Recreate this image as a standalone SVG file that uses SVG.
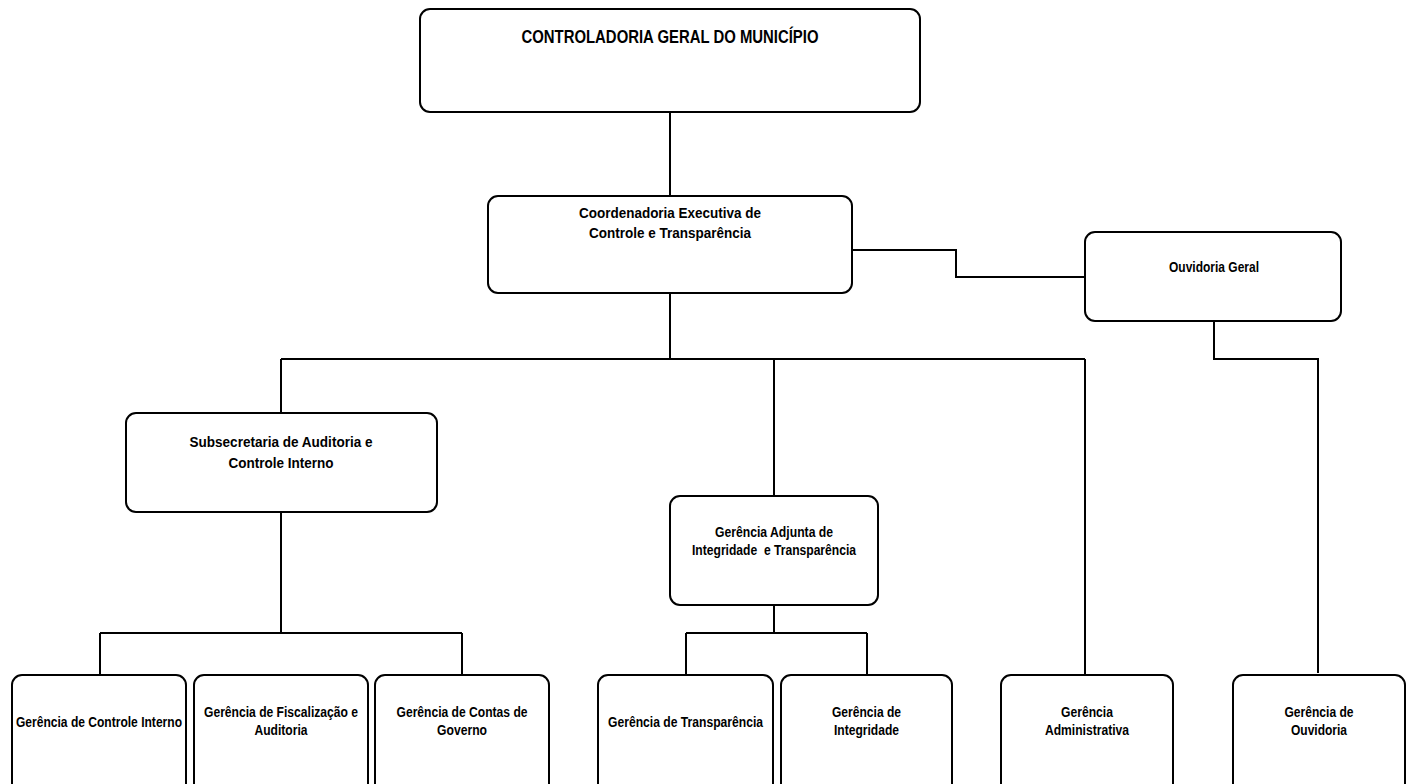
<svg xmlns="http://www.w3.org/2000/svg" width="1413" height="784" viewBox="0 0 1413 784">
<style>
.box{fill:#fff;stroke:#000;stroke-width:2}
.c{fill:none;stroke:#000;stroke-width:2}
text{font-family:"Liberation Sans",Arial,sans-serif;font-weight:bold;fill:#000;text-anchor:middle}
.t{font-size:18px}
.m{font-size:15px}
.s{font-size:14px}
</style>
<rect width="1413" height="784" fill="#fff"/>
<g id="connectors">
<path class="c" d="M670,112V196"/>
<path class="c" d="M852,250H956V277H1085"/>
<path class="c" d="M670,293V359M281,359H1085M281,359V413M774,359V496M1085,359V675"/>
<path class="c" d="M1214,321V359H1318V673"/>
<path class="c" d="M281,512V633M100,633H462M100,633V675M462,633V675"/>
<path class="c" d="M774,605V633M686,633H867M686,633V675M867,633V675"/>
</g>
<g id="n-controladoria">
<rect class="box" x="420" y="9" width="500" height="103" rx="10"/>
<text class="t" x="670" y="43" textLength="297" lengthAdjust="spacingAndGlyphs">CONTROLADORIA GERAL DO MUNICÍPIO</text>
</g>
<g id="n-coordenadoria">
<rect class="box" x="488" y="196" width="364" height="97" rx="10"/>
<text class="m" x="670" y="218" textLength="182" lengthAdjust="spacingAndGlyphs">Coordenadoria Executiva de</text>
<text class="m" x="670" y="238" textLength="162" lengthAdjust="spacingAndGlyphs">Controle e Transparência</text>
</g>
<g id="n-ouvidoria-geral">
<rect class="box" x="1085" y="232" width="256" height="89" rx="10"/>
<text class="s" x="1214" y="272" textLength="90" lengthAdjust="spacingAndGlyphs">Ouvidoria Geral</text>
</g>
<g id="n-subsecretaria">
<rect class="box" x="126" y="413" width="311" height="99" rx="10"/>
<text class="m" x="281" y="447" textLength="183" lengthAdjust="spacingAndGlyphs">Subsecretaria de Auditoria e</text>
<text class="m" x="281" y="468" textLength="105" lengthAdjust="spacingAndGlyphs">Controle Interno</text>
</g>
<g id="n-gerencia-adjunta">
<rect class="box" x="670" y="496" width="208" height="109" rx="10"/>
<text class="s" x="774" y="537" textLength="118" lengthAdjust="spacingAndGlyphs">Gerência Adjunta de</text>
<text class="s" x="774" y="555" textLength="164" lengthAdjust="spacingAndGlyphs">Integridade &#160;e Transparência</text>
</g>
<g id="n-controle-interno">
<rect class="box" x="12" y="675" width="174" height="130" rx="10"/>
<text class="s" x="99" y="727" textLength="166" lengthAdjust="spacingAndGlyphs">Gerência de Controle Interno</text>
</g>
<g id="n-fiscalizacao">
<rect class="box" x="194" y="675" width="174" height="130" rx="10"/>
<text class="s" x="281" y="717" textLength="154" lengthAdjust="spacingAndGlyphs">Gerência de Fiscalização e</text>
<text class="s" x="281" y="735" textLength="53" lengthAdjust="spacingAndGlyphs">Auditoria</text>
</g>
<g id="n-contas">
<rect class="box" x="375" y="675" width="174" height="130" rx="10"/>
<text class="s" x="462" y="717" textLength="131" lengthAdjust="spacingAndGlyphs">Gerência de Contas de</text>
<text class="s" x="462" y="735" textLength="50" lengthAdjust="spacingAndGlyphs">Governo</text>
</g>
<g id="n-transparencia">
<rect class="box" x="598" y="675" width="175" height="130" rx="10"/>
<text class="s" x="685.5" y="727" textLength="155" lengthAdjust="spacingAndGlyphs">Gerência de Transparência</text>
</g>
<g id="n-integridade">
<rect class="box" x="781" y="675" width="171" height="130" rx="10"/>
<text class="s" x="866.5" y="717" textLength="69" lengthAdjust="spacingAndGlyphs">Gerência de</text>
<text class="s" x="866.5" y="735" textLength="65" lengthAdjust="spacingAndGlyphs">Integridade</text>
</g>
<g id="n-administrativa">
<rect class="box" x="1001" y="675" width="172" height="130" rx="10"/>
<text class="s" x="1087" y="717" textLength="52" lengthAdjust="spacingAndGlyphs">Gerência</text>
<text class="s" x="1087" y="735" textLength="84" lengthAdjust="spacingAndGlyphs">Administrativa</text>
</g>
<g id="n-ouvidoria">
<rect class="box" x="1233" y="675" width="172" height="130" rx="10"/>
<text class="s" x="1319" y="717" textLength="69" lengthAdjust="spacingAndGlyphs">Gerência de</text>
<text class="s" x="1319" y="735" textLength="56" lengthAdjust="spacingAndGlyphs">Ouvidoria</text>
</g>
</svg>
